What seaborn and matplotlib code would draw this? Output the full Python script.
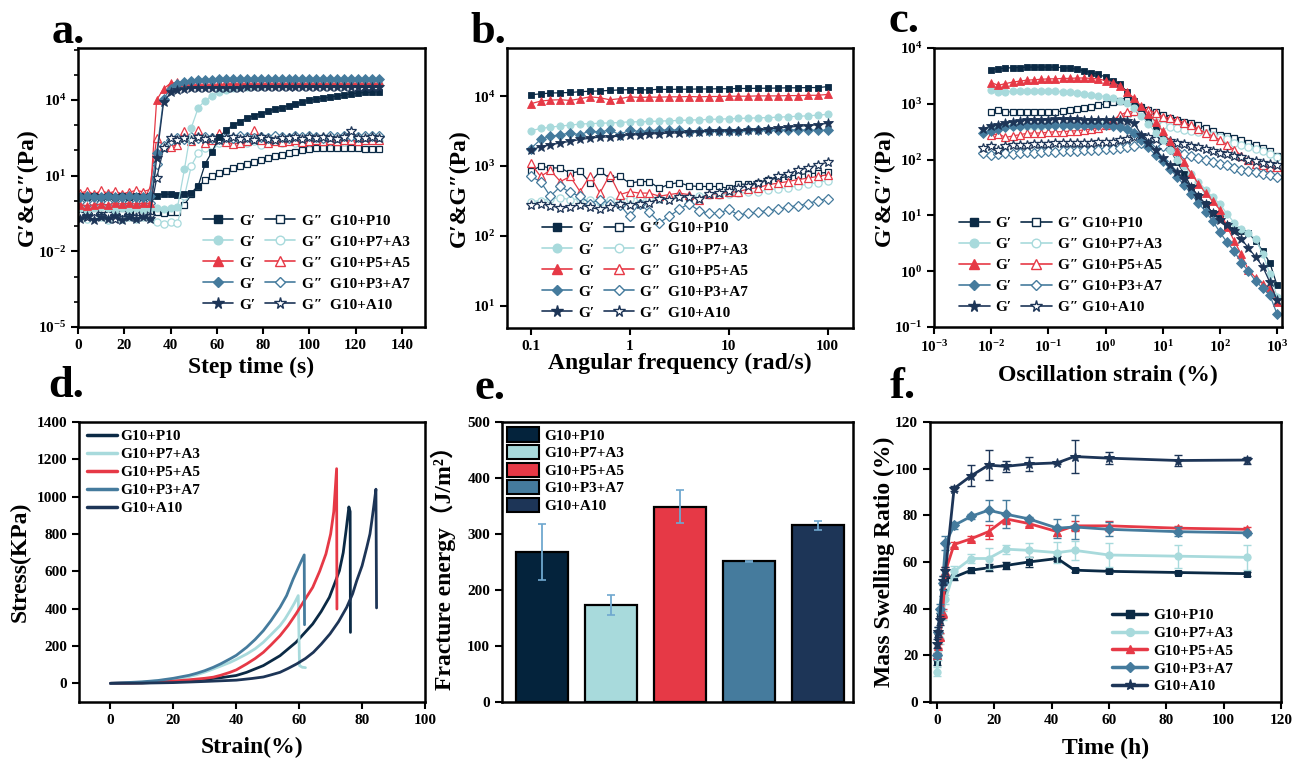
import numpy as np
import matplotlib
matplotlib.use('Agg')
import matplotlib.pyplot as plt
import seaborn as sns
from matplotlib.lines import Line2D
from matplotlib.patches import Patch
from matplotlib.ticker import FixedLocator, NullFormatter, FuncFormatter, NullLocator

# ---------------- data ----------------
groups = ['G10+P10', 'G10+P7+A3', 'G10+P5+A5', 'G10+P3+A7', 'G10+A10']

# (a) time sweep
a_time = [1, 4, 7, 10, 13, 16, 19, 22, 25, 28, 31, 34, 37, 40, 43, 46, 49, 52, 55, 58, 61, 64,
          67, 70, 73, 76, 79, 82, 85, 88, 91, 94, 97, 100, 103, 106, 109, 112, 115, 118, 121, 124, 127, 130]
a_gp_p10 = [1.5, 1.4, 1.5, 1.4, 1.5, 1.4, 1.5, 1.4, 1.5, 1.4, 1.5, 1.6, 1.9, 1.8, 1.7, 1.8, 2.1, 4.0, 30, 90, 330, 650,
            1000, 1400, 1950, 2400, 2900, 3500, 4400, 5000, 5900, 6800, 8500, 9800, 1.08e4, 1.18e4, 1.3e4, 1.45e4,
            1.58e4, 1.75e4, 1.88e4, 1.98e4, 2.08e4, 2.15e4]
a_gpp_p10 = [0.35, 0.3, 0.33, 0.28, 0.34, 0.3, 0.36, 0.3, 0.32, 0.29, 0.33, 0.35, 0.33, 0.37, 0.36, 0.7, 1.8, 3.5, 7, 10,
             13, 16, 20, 25, 30, 36, 42, 50, 60, 68, 76, 86, 100, 110, 120, 126, 130, 126, 124, 120, 120, 116, 115, 115]
a_gp_p7 = [0.5, 0.45, 0.5, 0.55, 0.5, 0.45, 0.5, 0.48, 0.5, 0.45, 0.5, 0.5, 0.48, 0.5, 0.55, 18, 800, 5000, 9500,
           1.5e4, 2.0e4, 2.5e4, 2.9e4, 3.2e4, 3.4e4, 3.6e4, 3.7e4, 3.8e4, 3.9e4, 4.0e4, 4.0e4, 4.1e4, 4.1e4, 4.2e4,
           4.2e4, 4.3e4, 4.3e4, 4.3e4, 4.4e4, 4.4e4, 4.4e4, 4.5e4, 4.5e4, 4.5e4]
a_gpp_p7 = [0.25, 0.2, 0.28, 0.22, 0.18, 0.25, 0.2, 0.23, 0.19, 0.24, 0.21, 0.14, 0.12, 0.14, 0.13, 1.5, 25, 80, 130,
            170, 200, 220, 180, 240, 200, 230, 160, 210, 250, 200, 230, 190, 240, 220, 250, 210, 240, 230, 220, 250,
            240, 230, 260, 240]
a_gp_p5 = [0.7, 0.65, 0.7, 0.75, 0.7, 0.8, 0.75, 0.8, 0.75, 0.8, 0.8, 1.0e4, 2.8e4, 4.6e4, 5.0e4, 5.2e4, 5.3e4,
           5.3e4, 5.4e4, 5.4e4, 5.4e4, 5.5e4, 5.5e4, 5.5e4, 5.5e4, 5.5e4, 5.5e4, 5.6e4, 5.6e4, 5.6e4, 5.6e4, 5.6e4,
           5.6e4, 5.6e4, 5.6e4, 5.6e4, 5.6e4, 5.6e4, 5.6e4, 5.6e4, 5.6e4, 5.6e4, 5.6e4, 5.6e4]
a_gpp_p5 = [2.0, 2.5, 1.8, 2.6, 2.0, 2.4, 1.9, 2.2, 2.6, 2.3, 2.8, 300, 150, 140, 170, 600, 230, 650, 200, 250, 500,
            220, 180, 200, 230, 650, 250, 190, 230, 210, 240, 250, 220, 240, 260, 230, 250, 240, 260, 250, 240, 260,
            250, 250]
a_gp_p3 = [1.45, 1.5, 1.4, 1.45, 1.5, 1.4, 1.45, 1.5, 1.45, 1.4, 1.5, 80, 1.1e4, 2.8e4, 4.2e4, 5.2e4, 5.8e4, 6.1e4,
           6.3e4, 6.4e4, 6.5e4, 6.6e4, 6.6e4, 6.7e4, 6.7e4, 6.7e4, 6.8e4, 6.8e4, 6.8e4, 6.8e4, 6.8e4, 6.9e4, 6.9e4,
           6.9e4, 6.9e4, 6.9e4, 6.9e4, 7.0e4, 7.0e4, 7.0e4, 7.0e4, 7.0e4, 7.0e4, 7.0e4]
a_gpp_p3 = [0.8, 0.75, 0.8, 0.85, 0.8, 0.75, 0.8, 0.8, 0.85, 0.8, 0.8, 30, 150, 260, 300, 280, 330, 300, 350, 320,
            290, 340, 310, 360, 330, 300, 350, 320, 380, 340, 310, 360, 330, 380, 350, 320, 370, 340, 390, 360, 340,
            380, 370, 380]
a_gp_a10 = [0.2, 0.25, 0.18, 0.22, 0.2, 0.25, 0.17, 0.22, 0.2, 0.24, 0.19, 50, 8000, 2.0e4, 2.5e4, 2.8e4, 2.9e4,
            3.0e4, 3.0e4, 3.1e4, 3.1e4, 3.1e4, 3.1e4, 3.1e4, 3.2e4, 3.2e4, 3.2e4, 3.2e4, 3.2e4, 3.2e4, 3.2e4, 3.2e4,
            3.2e4, 3.2e4, 3.2e4, 3.2e4, 3.2e4, 3.2e4, 3.2e4, 3.2e4, 3.2e4, 3.2e4, 3.2e4, 3.2e4]
a_gpp_a10 = [0.3, 0.22, 0.35, 0.25, 0.3, 0.2, 0.32, 0.26, 0.22, 0.3, 0.25, 8, 120, 320, 250, 300, 270, 330, 280, 310,
             260, 300, 340, 280, 310, 270, 330, 290, 260, 320, 300, 340, 280, 330, 300, 350, 310, 280, 330, 600, 320,
             300, 340, 310]

# (b) frequency sweep
b_freq = [0.1, 0.126, 0.158, 0.2, 0.251, 0.316, 0.398, 0.501, 0.631, 0.794, 1, 1.26, 1.58, 2, 2.51, 3.16, 3.98,
          5.01, 6.31, 7.94, 10, 12.6, 15.8, 20, 25.1, 31.6, 39.8, 50.1, 63.1, 79.4, 100]
b_gp_p10 = [10500, 10800, 11100, 11200, 11300, 11600, 11800, 11900, 12100, 12300, 12400, 12400, 12300, 12600, 12500,
            12600, 12600, 12700, 12700, 12800, 12800, 12900, 12900, 13000, 13000, 13100, 13200, 13200, 13300, 13300, 13700]
b_gp_p7 = [3200, 3450, 3600, 3750, 3850, 4000, 4050, 4100, 4150, 4200, 4300, 4300, 4350, 4400, 4450, 4500, 4550,
           4600, 4650, 4700, 4750, 4800, 4850, 4900, 4950, 5000, 5100, 5150, 5250, 5350, 5500]
b_gp_p5 = [7800, 8500, 8800, 8900, 8700, 9200, 9800, 9500, 8900, 9200, 9800, 9600, 9700, 9700, 9800, 9800, 9900,
           9800, 9900, 9900, 10000, 10000, 10000, 10100, 10100, 10100, 10200, 10200, 10300, 10300, 10600]
b_gp_p3 = [1770, 2400, 2670, 2800, 2970, 2800, 3200, 3050, 3300, 2800, 3300, 3100, 3200, 3300, 3250, 3300, 3100,
           3200, 3150, 3200, 3200, 3200, 3250, 3250, 3300, 3250, 3300, 3300, 3250, 3250, 3250]
b_gp_a10 = [1680, 1900, 2000, 2150, 2250, 2400, 2500, 2600, 2600, 2700, 2800, 2800, 2900, 2900, 2970, 2970, 3050,
            3100, 3150, 3150, 3200, 3200, 3300, 3300, 3400, 3500, 3600, 3700, 3800, 3900, 4100]
b_gpp_p10 = [840, 1000, 940, 940, 790, 840, 580, 840, 670, 710, 570, 600, 600, 480, 550, 580, 520, 510, 510, 510,
             480, 550, 550, 580, 640, 670, 710, 750, 780, 790, 810]
b_gpp_p7 = [310, 320, 340, 350, 330, 340, 330, 310, 330, 340, 340, 350, 340, 340, 350, 370, 350, 370, 390, 390, 400,
            410, 420, 430, 460, 470, 490, 520, 550, 580, 620]
b_gpp_p5 = [1100, 710, 870, 600, 710, 430, 730, 410, 750, 390, 430, 410, 410, 370, 390, 410, 390, 330, 400, 400, 420,
            430, 470, 490, 540, 570, 600, 640, 670, 710, 750]
b_gpp_p3 = [710, 600, 370, 510, 420, 370, 290, 330, 290, 280, 190, 290, 220, 155, 190, 240, 290, 230, 210, 210, 240,
            200, 210, 220, 230, 240, 260, 270, 290, 320, 340]
b_gpp_a10 = [280, 290, 270, 250, 260, 280, 255, 240, 260, 290, 280, 290, 300, 340, 330, 360, 360, 340, 400, 410, 440,
             490, 520, 570, 640, 710, 780, 870, 940, 1040, 1130]

# (c) amplitude sweep
nan = float('nan')
c_strain = [0.0071, 0.01, 0.0133, 0.0178, 0.0237, 0.0316, 0.0422, 0.0562, 0.075, 0.1, 0.133, 0.178, 0.237, 0.316,
            0.422, 0.562, 0.75, 1, 1.33, 1.78, 2.37, 3.16, 4.22, 5.62, 7.5, 10, 13.3, 17.8, 23.7, 31.6, 42.2, 56.2,
            75, 100, 133, 178, 237, 316, 422, 562, 750, 1000]
c_gp_p10 = [nan, 4100, 4250, 4350, 4450, 4450, 4550, 4550, 4550, 4550, 4550, 4450, 4350, 4150, 3900, 3600, 3400, 3000,
            2600, 2250, 1650, 1120, 830, 560, 355, 250, 160, 90, 56, 32, 22, 16, 11, 8.9, 6.6, 5.5, 5.2, 4.8, 3.5,
            2.3, 1.4, 0.56]
c_gpp_p10 = [nan, 700, 760, 720, 710, 700, 700, 700, 700, 710, 720, 740, 770, 800, 840, 880, 940, 1000, 1060, 1120,
             1150, 1050, 880, 780, 700, 620, 560, 520, 480, 450, 420, 370, 320, 280, 265, 245, 220, 200, 180, 160,
             140, 115]
c_gp_p7 = [nan, 1780, 1650, 1650, 1680, 1680, 1700, 1700, 1700, 1680, 1680, 1650, 1620, 1580, 1520, 1450, 1400, 1350,
           1250, 1120, 1020, 850, 600, 440, 300, 224, 150, 100, 76, 55, 40, 29, 21, 16, 10.7, 7.4, 5.6, 4.8, 3.8,
           2.0, 0.9, 0.35]
c_gpp_p7 = [nan, 380, 390, 395, 400, 400, 400, 405, 405, 410, 410, 410, 415, 415, 420, 420, 440, 460, 500, 560, 630,
            700, 660, 575, 480, 420, 380, 365, 345, 330, 315, 300, 280, 250, 230, 200, 180, 170, 155, 140, 125, 112]
c_gp_p5 = [nan, 2400, 2150, 2300, 2450, 2550, 2650, 2700, 2750, 2800, 2800, 2850, 2850, 2900, 2900, 2850, 2800, 2600,
           2400, 2100, 1650, 1250, 900, 660, 480, 320, 215, 140, 89, 56, 37, 25, 18, 12.6, 6.3, 3.5, 2.0, 1.05,
           0.76, 0.6, 0.5, 0.28]
c_gpp_p5 = [nan, 275, 290, 250, 265, 280, 295, 300, 300, 310, 315, 315, 325, 330, 340, 355, 370, 420, 500, 630, 710,
            740, 780, 780, 680, 590, 550, 510, 460, 410, 355, 300, 265, 225, 185, 150, 118, 100, 85, 80, 74, 74]
c_gp_p3 = [295, 330, 360, 380, 400, 405, 415, 420, 425, 425, 425, 425, 425, 425, 420, 420, 420, 415, 400, 380, 355,
           300, 225, 165, 120, 95, 69, 49, 35, 24, 16.6, 11.7, 7.9, 5.0, 3.3, 2.3, 1.4, 1.0, 0.66, 0.5, 0.37, 0.17]
c_gpp_p3 = [130, 120, 125, 130, 128, 132, 135, 133, 137, 140, 138, 142, 145, 143, 147, 150, 150, 152, 155, 160, 165,
            178, 195, 210, 200, 178, 158, 138, 126, 117, 107, 100, 91, 85, 79, 72, 66, 62, 59, 56, 52, 49]
c_gp_a10 = [355, 400, 425, 455, 480, 500, 510, 515, 520, 520, 525, 525, 525, 525, 520, 520, 520, 515, 515, 510, 500,
            445, 280, 200, 148, 105, 79, 60, 45, 32, 22, 16, 11, 8.3, 6.6, 5.2, 3.8, 2.6, 1.8, 1.2, 0.63, 0.3]
c_gpp_a10 = [160, 175, 150, 175, 180, 185, 185, 190, 190, 190, 195, 195, 195, 200, 200, 200, 205, 205, 210, 220, 235,
             250, 262, 250, 238, 225, 212, 200, 188, 175, 165, 155, 145, 132, 125, 117, 110, 100, 94, 88, 84, 80]

# (d) stress-strain
d_strain_p10 = [0, 10, 20, 25, 30, 35, 40, 43.3, 48.6, 53.9, 59, 64.3, 67, 69.6, 71.5, 72.8, 74, 74.9, 75.8, 76.2, 76.3]
d_stress_p10 = [0, 2, 9, 15, 22, 30, 42, 59, 95, 148, 220, 318, 385, 461, 545, 604, 700, 818, 945, 920, 273]
d_strain_p7 = [0, 10, 15, 20, 25, 27.4, 30, 32.7, 35, 38, 40, 43.3, 46, 48.6, 51, 53.9, 55.5, 57.1, 58.5, 59.7,
               60.0, 60.1, 61, 61.6, 62]
d_stress_p7 = [0, 6, 13, 22, 36, 46, 60, 77, 92, 112, 128, 157, 185, 220, 260, 309, 345, 389, 430, 470,
               193, 95, 86, 85, 84]
d_strain_p5 = [0, 10, 15, 20, 25, 30, 32.7, 35, 38, 40, 43.3, 46, 48.6, 51, 53.9, 56.5, 59, 61.5, 64.3, 66.5, 68.5,
               70, 71, 71.9, 72.0]
d_stress_p5 = [0, 3, 7, 12, 19, 27, 33, 43, 59, 72, 104, 133, 166, 205, 255, 310, 372, 440, 514, 600, 693,
               800, 920, 1150, 398]
d_strain_p3 = [0, 10, 15, 20, 25, 27.4, 30, 32.7, 35, 38, 40, 43.3, 46, 48.6, 51, 53.9, 56, 58.1, 60, 61.6, 61.7]
d_stress_p3 = [0, 8, 15, 27, 43, 54, 68, 86, 104, 131, 150, 193, 235, 282, 335, 407, 470, 559, 630, 688, 314]
d_strain_a10 = [0, 10, 20, 30, 40, 45, 48.6, 51, 53.9, 56.5, 59.2, 62, 64.5, 67, 69.8, 72.5, 75.1, 77, 78.3, 80,
                81.5, 82.5, 83.1, 83.8, 84.4, 84.6]
d_stress_a10 = [0, 1, 4, 10, 17, 26, 34, 45, 59, 80, 104, 133, 166, 210, 265, 330, 407, 480, 550, 630,
                729, 800, 871, 960, 1040, 404]

# (e) fracture energy
e_energy = [268, 173, 349, 251, 316]
e_err = [50, 18, 29, 1.5, 8]

# (f) swelling
f_time = [0, 0.5, 1, 2, 3, 6, 12, 18, 24, 32, 42, 48, 60, 84, 108]
f_p10 = [17, 28, 37, 47, 53, 53.5, 56.5, 57.5, 58.5, 60, 61.5, 56.5, 56, 55.5, 55]
f_p7 = [13, 20, 27, 37, 44, 56, 61.5, 61.5, 65.5, 65, 64, 65, 63, 62.5, 62]
f_p5 = [20, 24, 28, 38, 56, 67.5, 70, 73, 78.5, 76.5, 73, 75.5, 75.5, 74.5, 74]
f_p3 = [20, 30, 40, 51, 68, 75.7, 79.6, 82.2, 80.5, 78.5, 74.5, 75, 74, 73, 72.5]
f_a10 = [25, 30, 35, 52, 56, 91.5, 97, 101.5, 101, 102, 102.5, 105.2, 104.5, 103.5, 103.7]
f_err_p10 = [1, 1, 1, 1.5, 1.5, 1, 1, 1.5, 1.5, 2, 1, 0.8, 0.8, 0.8, 0.8]
f_err_p7 = [2, 2, 2, 2, 2, 2.5, 2, 4.5, 2, 3, 4.5, 4, 5, 5, 5.5]
f_err_p5 = [1, 1, 1.5, 2, 2, 1, 1, 3, 2, 1, 2, 2, 2, 1, 1]
f_err_p3 = [1, 2, 2, 3, 3, 1.5, 1, 4.5, 6, 1, 4, 5, 3, 2, 1]
f_err_a10 = [2, 2, 2, 2, 2, 1, 4.5, 6.5, 2.5, 3, 0.5, 7, 2.5, 2.5, 1.5]

# ---------------- style ----------------
sns.set_theme(style='ticks')
plt.rcParams['font.family'] = ['Liberation Serif', 'DejaVu Serif', 'Noto Sans CJK SC']
plt.rcParams.update({
    'font.weight': 'bold', 'axes.labelweight': 'bold', 'axes.linewidth': 1.8,
    'mathtext.fontset': 'custom', 'mathtext.rm': 'Liberation Serif:bold',
    'mathtext.bf': 'Liberation Serif:bold', 'mathtext.it': 'Liberation Serif:italic:bold',
    'xtick.major.width': 1.5, 'ytick.major.width': 1.5, 'xtick.major.size': 5, 'ytick.major.size': 5,
    'xtick.minor.size': 3, 'ytick.minor.size': 3, 'xtick.minor.width': 1.2, 'ytick.minor.width': 1.2,
    'xtick.color': 'black', 'ytick.color': 'black', 'axes.edgecolor': 'black',
    'xtick.labelsize': 11, 'ytick.labelsize': 11, 'axes.labelsize': 17,
    'xtick.direction': 'out', 'ytick.direction': 'out', 'axes.labelcolor': 'black', 'text.color': 'black'})

line_colors = ['#0b2a45', '#a8dadc', '#e63946', '#457b9d', '#1d3557']
bar_colors = ['#04233c', '#a8dadc', '#e63946', '#457b9d', '#1d3557']
markers = ['s', 'o', '^', 'D', '*']
msizes = [4.8, 5.2, 5.6, 4.6, 7.5]

fig = plt.figure(figsize=(12.93, 7.59), dpi=100)
W, H = 1293, 759


def add_ax(l, r, t, b):
    return fig.add_axes([l / W, 1 - b / H, (r - l) / W, (b - t) / H])


ax_a = add_ax(78, 425, 48, 327)
ax_b = add_ax(507, 853, 48, 328)
ax_c = add_ax(934, 1282, 48, 327)
ax_d = add_ax(79, 425, 422, 702)
ax_e = add_ax(502, 853, 422, 702)
ax_f = add_ax(930, 1281, 422, 702)

pow_fmt = FuncFormatter(lambda v, p: r'$\mathbf{10^{%d}}$' % int(round(np.log10(v))))
legprop = {'weight': 'bold', 'size': 11}


def rheo(ax, x, gps, gpps):
    for i in range(5):
        c = line_colors[i]
        sns.lineplot(x=x, y=gpps[i], ax=ax, color=c, lw=0.9, marker=markers[i], markersize=msizes[i],
                     markerfacecolor='white', markeredgecolor=c, markeredgewidth=0.9, estimator=None, sort=False)
    for i in range(5):
        c = line_colors[i]
        sns.lineplot(x=x, y=gps[i], ax=ax, color=c, lw=0.9, marker=markers[i], markersize=msizes[i],
                     markerfacecolor=c, markeredgecolor=c, markeredgewidth=0.6, estimator=None, sort=False)


def rheo_legend(ax, gap, anchor):
    hs = [Line2D([], [], color=line_colors[i], marker=markers[i], ms=msizes[i] + 1, mfc=line_colors[i],
                 mec=line_colors[i], lw=1.2) for i in range(5)]
    hs += [Line2D([], [], color=line_colors[i], marker=markers[i], ms=msizes[i] + 1, mfc='white',
                  mec=line_colors[i], lw=1.2) for i in range(5)]
    labels = ['G′'] * 5 + ['G″' + gap + g for g in groups]
    ax.legend(hs, labels, ncol=2, frameon=False, prop=legprop, handlelength=2.0, handletextpad=0.4,
              columnspacing=0.6, labelspacing=0.48, loc='lower left', bbox_to_anchor=anchor, borderaxespad=0,
              borderpad=0)


def finish(ax, xl=None, yl=None):
    ax.tick_params(top=False, right=False, which='both')
    for s in ax.spines.values():
        s.set_visible(True)
        s.set_linewidth(1.8)
        s.set_color('black')
    if xl is not None:
        ax.xaxis.set_label_coords(0.5, xl)
        ax.xaxis.label.set_va('top')
    if yl is not None:
        ax.yaxis.set_label_coords(yl, 0.5)


# (a)
rheo(ax_a, a_time, [a_gp_p10, a_gp_p7, a_gp_p5, a_gp_p3, a_gp_a10],
     [a_gpp_p10, a_gpp_p7, a_gpp_p5, a_gpp_p3, a_gpp_a10])
ax_a.set_yscale('log')
ax_a.set_xlim(0, 150)
ax_a.set_ylim(1e-5, 1.15e6)
ax_a.set_xticks([0, 20, 40, 60, 80, 100, 120, 140])
ax_a.yaxis.set_major_locator(FixedLocator([1e-5, 1e-2, 1e1, 1e4]))
ax_a.yaxis.set_major_formatter(pow_fmt)
ax_a.yaxis.set_minor_locator(FixedLocator([10.0 ** k for k in range(-5, 7)]))
ax_a.yaxis.set_minor_formatter(NullFormatter())
ax_a.set_xlabel('Step time (s)')
ax_a.set_ylabel('G′&G″(Pa)')
rheo_legend(ax_a, '  ', (0.36, 0.055))
finish(ax_a, -0.108, -0.115)

# (b)
rheo(ax_b, b_freq, [b_gp_p10, b_gp_p7, b_gp_p5, b_gp_p3, b_gp_a10],
     [b_gpp_p10, b_gpp_p7, b_gpp_p5, b_gpp_p3, b_gpp_a10])
ax_b.set_xscale('log')
ax_b.set_yscale('log')
ax_b.set_xlim(0.0577, 181)
ax_b.set_ylim(4.8, 4.9e4)
ax_b.xaxis.set_major_locator(FixedLocator([0.1, 1, 10, 100]))
ax_b.set_xticklabels(['0.1', '1', '10', '100'])
ax_b.xaxis.set_minor_locator(NullLocator())
ax_b.yaxis.set_major_locator(FixedLocator([1e1, 1e2, 1e3, 1e4]))
ax_b.yaxis.set_major_formatter(pow_fmt)
ax_b.yaxis.set_minor_locator(NullLocator())
ax_b.set_xlabel('Angular frequency (rad/s)')
ax_b.set_ylabel('G′&G″(Pa)')
rheo_legend(ax_b, '  ', (0.1, 0.03))
finish(ax_b, -0.089, -0.106)

# (c)
rheo(ax_c, c_strain, [c_gp_p10, c_gp_p7, c_gp_p5, c_gp_p3, c_gp_a10],
     [c_gpp_p10, c_gpp_p7, c_gpp_p5, c_gpp_p3, c_gpp_a10])
ax_c.set_xscale('log')
ax_c.set_yscale('log')
ax_c.set_xlim(1e-3, 1.22e3)
ax_c.set_ylim(0.1, 1e4)
ax_c.xaxis.set_major_locator(FixedLocator([10.0 ** k for k in range(-3, 4)]))
ax_c.xaxis.set_major_formatter(pow_fmt)
ax_c.xaxis.set_minor_locator(NullLocator())
ax_c.yaxis.set_major_locator(FixedLocator([10.0 ** k for k in range(-1, 5)]))
ax_c.yaxis.set_major_formatter(pow_fmt)
ax_c.yaxis.set_minor_locator(NullLocator())
ax_c.set_xlabel('Oscillation strain (%)')
ax_c.set_ylabel('G′&G″(Pa)')
rheo_legend(ax_c, ' ', (0.072, 0.045))
finish(ax_c, -0.136, -0.112)

# (d)
d_sets = [(d_strain_p10, d_stress_p10), (d_strain_p7, d_stress_p7), (d_strain_p5, d_stress_p5),
          (d_strain_p3, d_stress_p3), (d_strain_a10, d_stress_a10)]
for i, (xs, ys) in enumerate(d_sets):
    sns.lineplot(x=xs, y=ys, ax=ax_d, color=line_colors[i], lw=2.0, estimator=None, sort=False)
ax_d.set_xlim(-10, 100)
ax_d.set_ylim(-100, 1400)
ax_d.set_xticks([0, 20, 40, 60, 80, 100])
ax_d.set_yticks(list(range(0, 1401, 200)))
ax_d.set_xlabel('Strain(%)')
ax_d.set_ylabel('Stress(KPa)')
hs = [Line2D([], [], color=line_colors[i], lw=2.5) for i in range(5)]
ax_d.legend(hs, groups, loc='upper left', frameon=False, prop=legprop, handlelength=2.0, handletextpad=0.2,
            labelspacing=0.28, borderaxespad=0.3, borderpad=0.2)
finish(ax_d, -0.125, -0.14)

# (e)
sns.barplot(x=groups, y=e_energy, hue=groups, palette=bar_colors, edgecolor='black', linewidth=1.6,
            width=0.76, saturation=1, ax=ax_e, legend=False)
ax_e.errorbar(range(5), e_energy, yerr=e_err, fmt='none', ecolor='#6fa8cf', elinewidth=1.3, capsize=3,
              capthick=1.2)
ax_e.set_xlim(-0.58, 4.51)
ax_e.set_ylim(0, 500)
ax_e.set_yticks([0, 100, 200, 300, 400, 500])
ax_e.set_xticks([])
ax_e.set_xlabel('')
ax_e.set_ylabel('Fracture energy（J/m²）')
hs = [Patch(facecolor=bar_colors[i], edgecolor='black', lw=1.5) for i in range(5)]
ax_e.legend(hs, groups, loc='upper left', frameon=False, prop=legprop, handlelength=2.1, handleheight=1.05,
            handletextpad=0.3, labelspacing=0.15, borderaxespad=0.15, borderpad=0.2)
finish(ax_e, None, -0.13)

# (f)
f_sets = [f_p10, f_p7, f_p5, f_p3, f_a10]
f_errs = [f_err_p10, f_err_p7, f_err_p5, f_err_p3, f_err_a10]
for i in range(5):
    c = line_colors[i]
    ax_f.errorbar(f_time, f_sets[i], yerr=f_errs[i], fmt='none', ecolor=c, elinewidth=1.0, capsize=3,
                  capthick=1.0)
    sns.lineplot(x=f_time, y=f_sets[i], ax=ax_f, color=c, lw=2.0, marker=markers[i], markersize=msizes[i],
                 markerfacecolor=c, markeredgecolor=c, estimator=None, sort=False)
ax_f.set_xlim(-2.4, 120)
ax_f.set_ylim(0, 120)
ax_f.set_xticks([0, 20, 40, 60, 80, 100, 120])
ax_f.set_yticks([0, 20, 40, 60, 80, 100, 120])
ax_f.set_xlabel('Time (h)')
ax_f.set_ylabel('Mass Swelling Ratio (%)')
hs = [Line2D([], [], color=line_colors[i], lw=2.5, marker=markers[i], ms=msizes[i] + 0.5) for i in range(5)]
ax_f.legend(hs, groups, loc='lower right', frameon=False, prop=legprop, handlelength=2.3, handletextpad=0.4,
            labelspacing=0.27, bbox_to_anchor=(0.873, 0.02), borderaxespad=0, borderpad=0.2)
finish(ax_f, -0.129, -0.1)

# panel letters
for lab, x, y in [('a.', 52, 43), ('b.', 470, 43), ('c.', 888, 32), ('d.', 48, 397), ('e.', 475, 399),
                  ('f.', 890, 398)]:
    fig.text(x / W, 1 - y / H, lab, fontsize=32, fontweight='bold', va='baseline', ha='left')

fig.savefig('out.png', dpi=100)
